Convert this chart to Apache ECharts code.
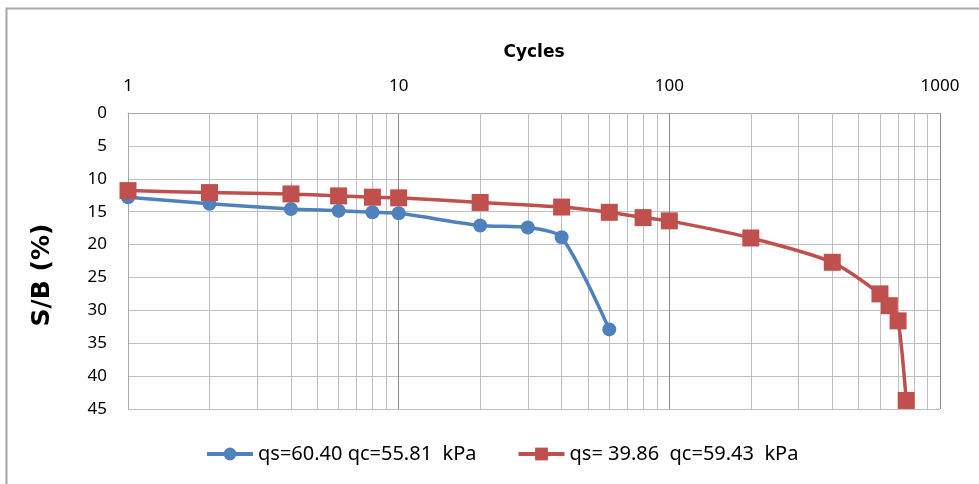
<!DOCTYPE html>
<html>
<head>
<meta charset="utf-8">
<script src="https://cdn.jsdelivr.net/npm/echarts@6/dist/echarts.min.js"></script>
<style>html,body{margin:0;padding:0;background:#fff;}#c{width:979px;height:484px;}</style>
</head>
<body>
<div id="c"></div>
<script>
const seriesNames = ['qs=60.40 qc=55.81  kPa', 'qs= 39.86  qc=59.43  kPa'];
const blueCycles = [1, 2, 4, 6, 8, 10, 20, 30, 40, 60];
const blueSB = [12.8, 13.8, 14.6, 14.85, 15.1, 15.25, 17.1, 17.4, 18.9, 32.9];
const redCycles = [1, 2, 4, 6, 8, 10, 20, 40, 60, 80, 100, 200, 400, 600, 650, 700, 750];
const redSB = [11.8, 12.1, 12.3, 12.6, 12.8, 12.9, 13.6, 14.3, 15.1, 15.9, 16.4, 19.0, 22.7, 27.5, 29.3, 31.6, 43.7];
const xTicks = [1, 10, 100, 1000];
const minorGrid = [2,3,4,5,6,7,8,9,20,30,40,50,60,70,80,90,200,300,400,500,600,700,800,900];
const yMin = 0, yMax = 45, yStep = 5;
const xTitle = 'Cycles';
const yTitle = 'S/B (%)';

const font = '"Noto Sans", Tahoma, sans-serif';
const chart = echarts.init(document.getElementById('c'), null, {renderer: 'canvas'});
chart.setOption({
  animation: false,
  backgroundColor: '#fff',
  graphic: [{
    type: 'rect', shape: {x: 6.5, y: 8.5, width: 1100, height: 1000},
    style: {fill: 'none', stroke: '#a6a6a6', lineWidth: 2}, silent: true
  }, {
    type: 'text', x: 42, y: 275, rotation: Math.PI / 2, silent: true,
    style: {text: yTitle, font: 'bold 25px "DejaVu Sans", Verdana, sans-serif', fill: '#000',
      textAlign: 'center', textVerticalAlign: 'middle'}
  }],
  grid: {left: 128, right: 39, top: 113, bottom: 75},
  xAxis: {
    type: 'log', logBase: 10, min: 1, max: 1000, position: 'top',
    name: xTitle, nameLocation: 'middle', nameGap: 52,
    nameTextStyle: {fontFamily: '"DejaVu Sans", sans-serif', fontWeight: 'bold', fontSize: 17, color: '#000'},
    axisLine: {show: true, lineStyle: {color: '#a6a6a6', width: 1}},
    axisTick: {show: false},
    axisLabel: {fontFamily: font, fontSize: 17, color: '#000', margin: 18,
      formatter: v => xTicks.includes(Math.round(v)) ? String(Math.round(v)) : ''},
    splitLine: {show: true, lineStyle: {color: '#8c8c8c', width: 1}}
  },
  yAxis: {
    type: 'value', inverse: true, min: yMin, max: yMax, interval: yStep,
    axisLine: {show: true, lineStyle: {color: '#a6a6a6', width: 1}},
    axisTick: {show: false},
    axisLabel: {fontFamily: font, fontSize: 17, color: '#000', margin: 21},
    splitLine: {show: true, lineStyle: {color: '#bfbfbf', width: 1}}
  },
  legend: {
    bottom: 15, left: 200, itemWidth: 46, itemHeight: 16, itemGap: 40,
    lineStyle: {width: 4},
    textStyle: {fontFamily: font, fontSize: 20, color: '#000'},
    data: seriesNames
  },
  series: [
    {
      name: seriesNames[0], type: 'line', smooth: 0.25,
      data: blueCycles.map((c, i) => [c, blueSB[i]]),
      symbol: 'circle', symbolSize: 14,
      itemStyle: {color: '#4F81BD'}, lineStyle: {color: '#4F81BD', width: 3.5},
      z: 3,
      markLine: {
        silent: true, symbol: ['none', 'none'], label: {show: false},
        lineStyle: {color: '#bfbfbf', width: 1, type: 'solid'},
        data: minorGrid.map(v => ({xAxis: v})), z: 1
      }
    },
    {
      name: seriesNames[1], type: 'line', smooth: 0.25,
      data: redCycles.map((c, i) => [c, redSB[i]]),
      symbol: 'rect', symbolSize: 17,
      itemStyle: {color: '#C0504D'}, lineStyle: {color: '#C0504D', width: 3.5},
      z: 4
    }
  ]
});
</script>
</body>
</html>
